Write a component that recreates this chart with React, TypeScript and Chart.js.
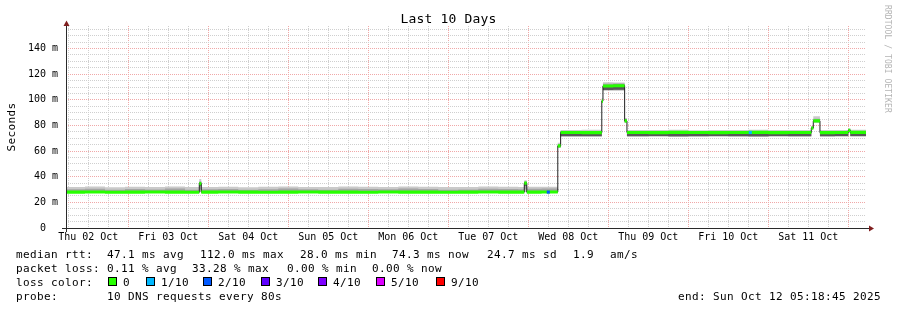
import React, { useEffect, useRef } from 'react';
import { Chart, registerables } from 'chart.js';

Chart.register(...registerables);

const MONO = "'DejaVu Sans Mono', monospace";

// ---------- text ----------
const chartTitle = 'Last 10 Days';
const yAxisTitle = 'Seconds';
const watermark = 'RRDTOOL / TOBI OETIKER';

// ---------- axes (x in hours since Thu 02 Oct 2025 00:00) ----------
const startHour = 5.3125;
const endHour = 245.3125;
const yMax = 157.6;
const dayLabels = ['Thu 02 Oct', 'Fri 03 Oct', 'Sat 04 Oct', 'Sun 05 Oct', 'Mon 06 Oct', 'Tue 07 Oct', 'Wed 08 Oct', 'Thu 09 Oct', 'Fri 10 Oct', 'Sat 11 Oct'];
const xTickHours = [6, 12, 18, 24, 30, 36, 42, 48, 54, 60, 66, 72, 78, 84, 90, 96, 102, 108, 114, 120, 126, 132, 138, 144, 150, 156, 162, 168, 174, 180, 186, 192, 198, 204, 210, 216, 222, 228, 234, 240];
const yTickValues = [0, 5, 10, 15, 20, 25, 30, 35, 40, 45, 50, 55, 60, 65, 70, 75, 80, 85, 90, 95, 100, 105, 110, 115, 120, 125, 130, 135, 140, 145, 150, 155];

// ---------- data (ms) ----------
const times = [
  5.31, 11, 17, 23, 29, 35, 41, 45.3, 45.9, 51,
  57, 63, 69, 75, 81, 87, 93, 99, 105, 111,
  117, 123, 129, 135, 141, 142.8, 143.55, 148, 152.85, 153.7,
  160, 166.05, 166.4, 169.5, 172.9, 173.6, 180, 186, 192, 198,
  204, 210, 216, 222, 228.9, 229.5, 231.5, 236, 240, 240.6,
  245.31,
];
const median = [
  28.0, 28.1, 27.9, 28.0, 28.1, 28.0, 27.9, 34.6, 28.0, 28.1,
  28.0, 27.9, 28.0, 28.1, 28.0, 28.0, 27.9, 28.1, 28.0, 28.0,
  27.9, 28.0, 28.1, 28.0, 28.0, 35.0, 28.0, 28.1, 64.0, 74.5,
  74.4, 99.0, 110.8, 111.0, 83.5, 74.5, 74.4, 74.6, 74.5, 74.4,
  74.5, 74.6, 74.4, 74.5, 78.0, 83.6, 74.4, 74.5, 76.2, 74.6,
  74.3,
];
const pingMin = [
  27.4, 27.4, 27.3, 27.4, 27.4, 27.4, 27.3, 28.0, 27.4, 27.4,
  27.3, 27.4, 27.4, 27.4, 27.3, 27.4, 27.4, 27.4, 27.4, 27.4,
  27.3, 27.4, 27.4, 27.4, 27.4, 28.0, 27.4, 27.4, 62.5, 71.2,
  71.2, 97.5, 107.2, 107.3, 82.0, 71.2, 71.3, 71.1, 71.2, 71.3,
  71.2, 71.1, 71.3, 71.2, 77.0, 82.2, 71.2, 71.3, 74.5, 71.3,
  71.2,
];
const ping20 = [
  27.6, 27.6, 27.5, 27.6, 27.6, 27.6, 27.5, 30.0, 27.6, 27.6,
  27.5, 27.6, 27.6, 27.6, 27.5, 27.6, 27.6, 27.6, 27.6, 27.6,
  27.5, 27.6, 27.6, 27.6, 27.6, 30.0, 27.6, 27.6, 63.0, 71.4,
  71.4, 98.0, 107.4, 107.5, 82.4, 71.4, 71.5, 71.3, 71.4, 71.5,
  71.4, 71.3, 71.5, 71.4, 77.2, 82.5, 71.4, 71.5, 74.8, 71.5,
  71.4,
];
const ping40 = [
  27.8, 27.8, 27.7, 27.8, 27.8, 27.8, 27.7, 33.0, 27.8, 27.8,
  27.7, 27.8, 27.8, 27.8, 27.7, 27.8, 27.8, 27.8, 27.8, 27.8,
  27.7, 27.8, 27.8, 27.8, 27.8, 33.0, 27.8, 27.8, 63.4, 71.7,
  71.7, 98.4, 107.7, 107.8, 82.8, 71.7, 71.8, 71.6, 71.7, 71.8,
  71.7, 71.6, 71.8, 71.7, 77.4, 82.8, 71.7, 71.8, 75.0, 71.8,
  71.7,
];
const ping60 = [
  28.6, 28.7, 28.5, 28.6, 28.7, 28.6, 28.5, 35.6, 28.6, 28.7,
  28.5, 28.6, 28.6, 28.7, 28.5, 28.6, 28.6, 28.7, 28.6, 28.6,
  28.5, 28.6, 28.7, 28.6, 28.6, 35.8, 28.6, 28.7, 64.6, 75.0,
  75.0, 99.6, 111.5, 111.7, 84.5, 75.0, 74.9, 75.1, 75.0, 74.9,
  75.0, 75.1, 74.9, 75.0, 78.6, 84.3, 75.0, 75.0, 76.8, 75.1,
  74.9,
];
const ping80 = [
  30.2, 30.6, 29.8, 30.4, 30.1, 30.8, 29.9, 36.5, 30.2, 30.5,
  29.8, 30.3, 30.9, 30.2, 29.9, 30.6, 30.4, 30.2, 30.8, 30.5,
  29.9, 30.1, 30.7, 30.4, 30.3, 36.2, 30.6, 30.9, 65.4, 75.6,
  75.5, 100.5, 112.6, 112.8, 85.0, 75.6, 75.5, 75.7, 75.6, 75.4,
  75.6, 75.7, 75.5, 75.6, 79.0, 85.2, 75.6, 75.5, 77.2, 75.6,
  75.5,
];
const pingMax = [
  32.0, 32.3, 31.8, 32.2, 32.0, 32.4, 31.9, 38.3, 32.0, 32.2,
  31.8, 32.1, 32.4, 32.0, 31.9, 32.3, 32.1, 32.0, 32.4, 32.2,
  31.9, 32.0, 32.3, 32.1, 32.0, 37.2, 32.1, 32.2, 66.5, 76.4,
  76.6, 101.5, 113.7, 113.5, 85.8, 76.5, 76.4, 76.6, 76.3, 76.5,
  76.4, 76.6, 76.5, 76.4, 79.5, 87.2, 76.5, 76.4, 77.8, 76.6,
  76.4,
];

// samples with packet loss (median colored by loss level)
const lossTimes = [150.0, 210.6];
const lossMedian = [28.0, 74.5];
const lossLevel = [2, 1];

// ---------- legend ----------
const lossLabels = ['0', '1/10', '2/10', '3/10', '4/10', '5/10', '9/10'];
const lossColors = ['#26ff00', '#00b8ff', '#0059ff', '#5e00ff', '#7e00ff', '#dd00ff', '#ff0000'];
const rttLabel = 'median rtt:';
const rttItems = ['47.1 ms avg', '112.0 ms max', '28.0 ms min', '74.3 ms now', '24.7 ms sd', '1.9', 'am/s'];
const lossLabel = 'packet loss:';
const lossItems = ['0.11 % avg', '33.28 % max', '0.00 % min', '0.00 % now'];
const lossColorLabel = 'loss color:';
const probeLabel = 'probe:';
const probeText = '10 DNS requests every 80s';
const endText = 'end: Sun Oct 12 05:18:45 2025';

// ---------- style ----------
const rttItemX = [107, 200, 300, 392, 487, 573, 610];
const lossItemX = [107, 192, 287, 372];
const lossBoxX = [108, 146, 203, 261, 318, 376, 436];
const smokeColors = ['#cacaca', '#a4a4a4', '#585858'];
const minorGrid = '#cfcfcf';
const majorGrid = '#f0a8a8';
const bandHalf = 1.25;
const STEP = 'before';

function pts(vals: number[]) {
  return times.map((t, i) => ({ x: t, y: vals[i] }));
}

function drawMono(ctx: CanvasRenderingContext2D, text: string, x: number, y: number, adv: number) {
  for (let i = 0; i < text.length; i++) ctx.fillText(text[i], x + i * adv, y);
}

const decorPlugin = {
  id: 'rrdDecor',
  afterDraw(chart: any) {
    const { ctx, chartArea: a } = chart;
    ctx.save();
    // axes
    ctx.strokeStyle = '#2a2a2a';
    ctx.lineWidth = 1;
    ctx.beginPath();
    ctx.moveTo(a.left - 4, a.bottom + 0.5);
    ctx.lineTo(a.right + 4, a.bottom + 0.5);
    ctx.moveTo(a.left + 0.5, a.bottom + 4);
    ctx.lineTo(a.left + 0.5, a.top - 3);
    ctx.stroke();
    // arrows
    ctx.fillStyle = '#801f1f';
    ctx.beginPath();
    ctx.moveTo(a.left - 2.5, a.top);
    ctx.lineTo(a.left + 3.5, a.top);
    ctx.lineTo(a.left + 0.5, a.top - 5.5);
    ctx.closePath();
    ctx.fill();
    ctx.beginPath();
    ctx.moveTo(a.right + 3, a.bottom - 2.5);
    ctx.lineTo(a.right + 3, a.bottom + 3.5);
    ctx.lineTo(a.right + 8, a.bottom + 0.5);
    ctx.closePath();
    ctx.fill();

    ctx.fillStyle = '#000';
    ctx.textBaseline = 'alphabetic';
    ctx.textAlign = 'left';
    // title
    ctx.font = `13px ${MONO}`;
    drawMono(ctx, chartTitle, 448.5 - (chartTitle.length * 8) / 2, 23, 8);

    // y axis title
    ctx.save();
    ctx.font = `11px ${MONO}`;
    ctx.translate(15, (a.top + a.bottom) / 2);
    ctx.rotate(-Math.PI / 2);
    drawMono(ctx, yAxisTitle, -(yAxisTitle.length * 7) / 2, 0, 7);
    ctx.restore();

    // watermark
    ctx.save();
    ctx.fillStyle = '#b4b4b4';
    ctx.font = `8px ${MONO}`;
    ctx.translate(885, 5);
    ctx.rotate(Math.PI / 2);
    drawMono(ctx, watermark, 0, 0, 4.9);
    ctx.restore();

    // legend
    ctx.font = `11px ${MONO}`;
    const b1 = 258, b2 = 272, b3 = 286, b4 = 300;
    drawMono(ctx, rttLabel, 16, b1, 7);
    rttItems.forEach((s, i) => drawMono(ctx, s, rttItemX[i], b1, 7));
    drawMono(ctx, lossLabel, 16, b2, 7);
    lossItems.forEach((s, i) => drawMono(ctx, s, lossItemX[i], b2, 7));
    drawMono(ctx, lossColorLabel, 16, b3, 7);
    lossLabels.forEach((s, i) => {
      const bx = lossBoxX[i];
      ctx.fillStyle = lossColors[i];
      ctx.fillRect(bx, b3 - 8, 8, 8);
      ctx.strokeStyle = '#000';
      ctx.lineWidth = 1;
      ctx.strokeRect(bx + 0.5, b3 - 8.5, 8, 8);
      ctx.fillStyle = '#000';
      drawMono(ctx, s, bx + 15, b3, 7);
    });
    drawMono(ctx, probeLabel, 16, b4, 7);
    drawMono(ctx, probeText, 107, b4, 7);
    drawMono(ctx, endText, 678, b4, 7);
    ctx.restore();
  },
};

function band(hi: number[], lo: number[], color: string) {
  return [
    { data: pts(hi), stepped: STEP, fill: '+1', backgroundColor: color, borderWidth: 0, borderColor: 'transparent', pointRadius: 0 },
    { data: pts(lo), stepped: STEP, fill: false, backgroundColor: color, borderWidth: 0, borderColor: 'transparent', pointRadius: 0 },
  ];
}

export default function App() {
  const ref = useRef<HTMLCanvasElement>(null);
  useEffect(() => {
    const greenHi = median.map((v) => v + bandHalf);
    const greenLo = median.map((v) => v - bandHalf);
    const datasets: any[] = [
      {
        data: lossTimes.map((t, i) => ({ x: t, y: lossMedian[i] })),
        showLine: false,
        pointStyle: 'rect',
        pointRadius: 2.2,
        pointBorderWidth: 0,
        pointBackgroundColor: lossLevel.map((l) => lossColors[l]),
        fill: false,
      },
      ...band(greenHi, greenLo, lossColors[0]),
      { data: pts(median), stepped: STEP, fill: false, borderWidth: 1, borderColor: '#202020', pointRadius: 0 },
      ...band(ping60, ping40, smokeColors[2]),
      ...band(ping80, ping20, smokeColors[1]),
      ...band(pingMax, pingMin, smokeColors[0]),
    ];
    const font = { family: MONO, size: 10 };
    const chart = new Chart(ref.current as HTMLCanvasElement, {
      type: 'line',
      data: { datasets },
      plugins: [decorPlugin],
      options: {
        animation: false,
        responsive: false,
        maintainAspectRatio: false,
        events: [],
        layout: { padding: { top: 26, right: 31, left: 0, bottom: 0 } },
        plugins: { legend: { display: false }, tooltip: { enabled: false }, title: { display: false } },
        scales: {
          x: {
            type: 'linear',
            min: startHour,
            max: endHour,
            afterBuildTicks: (s: any) => {
              s.ticks = xTickHours.map((v) => ({ value: v }));
            },
            afterFit: (s: any) => {
              s.height = 82;
            },
            ticks: {
              autoSkip: false,
              maxRotation: 0,
              minRotation: 0,
              padding: 3,
              color: '#000',
              font,
              callback: (v: any) => (v % 24 === 12 ? dayLabels[(v - 12) / 24] : ''),
            },
            grid: {
              drawTicks: false,
              lineWidth: 1,
              color: (c: any) => (c.tick && c.tick.value % 24 === 0 ? majorGrid : minorGrid),
            },
            border: { display: false, dash: [1, 1] },
          },
          y: {
            type: 'linear',
            min: 0,
            max: yMax,
            afterBuildTicks: (s: any) => {
              s.ticks = yTickValues.map((v) => ({ value: v }));
            },
            afterFit: (s: any) => {
              s.width = 66;
            },
            ticks: {
              autoSkip: false,
              padding: 8,
              color: '#000',
              font,
              callback: (v: any) => (v % 20 === 0 ? (v === 0 ? '0  ' : `${v} m`) : ''),
            },
            grid: {
              drawTicks: false,
              lineWidth: 1,
              color: (c: any) => {
                const v = c.tick ? c.tick.value : -1;
                if (v === 0) return 'rgba(0,0,0,0)';
                return v % 20 === 0 ? majorGrid : minorGrid;
              },
            },
            border: { display: false, dash: [1, 1] },
          },
        },
      } as any,
    } as any);
    return () => chart.destroy();
  }, []);
  return (
    <div style={{ position: 'fixed', left: 0, top: 0, width: 897, height: 310, background: '#fff' }}>
      <canvas ref={ref} width={897} height={310} style={{ width: 897, height: 310, display: 'block' }} />
    </div>
  );
}
